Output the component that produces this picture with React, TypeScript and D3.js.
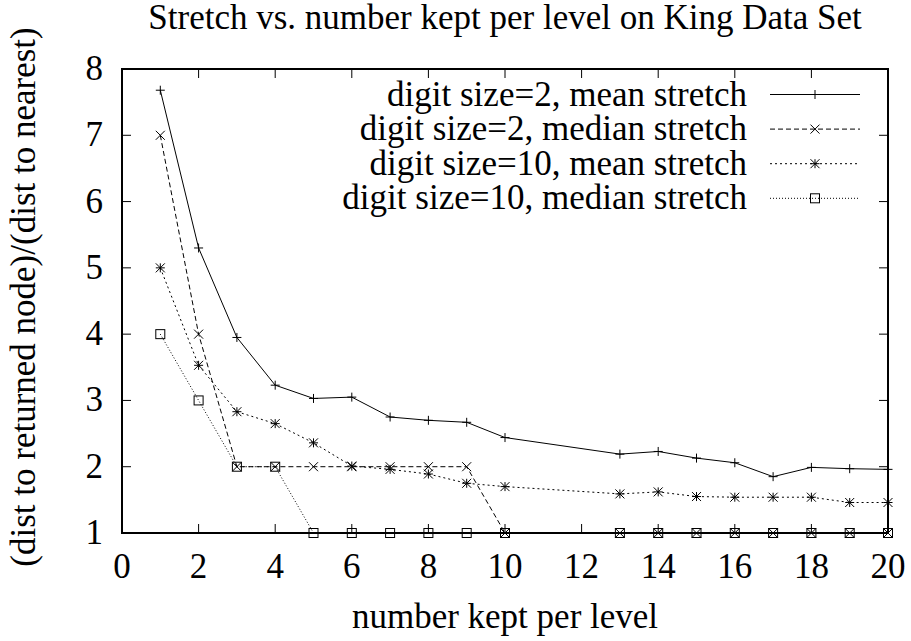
import React from 'react'
import * as d3 from 'd3'

const kept = [1, 2, 3, 4, 5, 6, 7, 8, 9, 10, 13, 14, 15, 16, 17, 18, 19, 20]
const meanD2 = [7.68, 5.3, 3.95, 3.23, 3.03, 3.05, 2.75, 2.7, 2.67, 2.44, 2.19, 2.23, 2.13, 2.06, 1.85, 1.99, 1.97, 1.96]
const medianD2 = [7, 4, 2, 2, 2, 2, 2, 2, 2, 1, 1, 1, 1, 1, 1, 1, 1, 1]
const meanD10 = [5, 3.53, 2.83, 2.65, 2.36, 2.01, 1.96, 1.89, 1.75, 1.7, 1.59, 1.62, 1.55, 1.54, 1.54, 1.54, 1.46, 1.46]
const medianD10 = [4, 3, 2, 2, 1, 1, 1, 1, 1, 1, 1, 1, 1, 1, 1, 1, 1, 1]

const seriesNames = [
  'digit size=2, mean stretch',
  'digit size=2, median stretch',
  'digit size=10, mean stretch',
  'digit size=10, median stretch',
]
const xTicks = [0, 2, 4, 6, 8, 10, 12, 14, 16, 18, 20]
const yTicks = [1, 2, 3, 4, 5, 6, 7, 8]

const W = 911
const H = 641
const font = 'Liberation Serif, Times New Roman, serif'
const fs = 35

function Marker({ kind, x, y }: { kind: number; x: number; y: number }) {
  const s = 4.5
  const st = { stroke: '#000', strokeWidth: 1, fill: 'none' }
  if (kind === 0) return <path d={`M${x - s},${y}H${x + s}M${x},${y - s}V${y + s}`} {...st} />
  if (kind === 1) return <path d={`M${x - s},${y - s}L${x + s},${y + s}M${x - s},${y + s}L${x + s},${y - s}`} {...st} />
  if (kind === 2)
    return (
      <path
        d={`M${x - s},${y}H${x + s}M${x},${y - s}V${y + s}M${x - s},${y - s}L${x + s},${y + s}M${x - s},${y + s}L${x + s},${y - s}`}
        {...st}
      />
    )
  return <rect x={x - s} y={y - s} width={2 * s} height={2 * s} {...st} />
}

export default function App() {
  const x = d3.scaleLinear().domain([0, 20]).range([122, 888])
  const y = d3.scaleLinear().domain([1, 8]).range([533, 69])
  const all = [meanD2, medianD2, meanD10, medianD10]
  const dashes = ['none', '5,3', '2,3', '1,2']
  const line = d3.line<[number, number]>().x(d => x(d[0])).y(d => y(d[1]))
  const tl = 9
  const txt = { fontFamily: font, fontSize: fs }

  return (
    <svg width={W} height={H} style={{ position: 'absolute', left: 0, top: 0, background: '#fff' }}>
      <rect width={W} height={H} fill="#fff" />
      <text x={505} y={29} textAnchor="middle" style={txt}>
        Stretch vs. number kept per level on King Data Set
      </text>

      {/* ticks on all four sides */}
      {xTicks.map(t => (
        <g key={'x' + t}>
          <line x1={x(t)} x2={x(t)} y1={y(1)} y2={y(1) - tl} stroke="#000" />
          <line x1={x(t)} x2={x(t)} y1={y(8)} y2={y(8) + tl} stroke="#000" />
          <text x={x(t)} y={578} textAnchor="middle" style={txt}>{t}</text>
        </g>
      ))}
      {yTicks.map(t => (
        <g key={'y' + t}>
          <line x1={x(0)} x2={x(0) + tl} y1={y(t)} y2={y(t)} stroke="#000" />
          <line x1={x(20)} x2={x(20) - tl} y1={y(t)} y2={y(t)} stroke="#000" />
          <text x={103} y={y(t) + 11} textAnchor="end" style={txt}>{t}</text>
        </g>
      ))}

      {all.map((vals, i) => (
        <g key={'s' + i}>
          <path
            d={line(kept.map((k, j) => [k, vals[j]] as [number, number])) || ''}
            fill="none"
            stroke="#000"
            strokeWidth={1}
            strokeDasharray={dashes[i]}
          />
          {kept.map((k, j) => (
            <Marker key={j} kind={i} x={x(k)} y={y(vals[j])} />
          ))}
        </g>
      ))}

      {seriesNames.map((n, i) => {
        const ly = 94.5 + i * 34.6
        return (
          <g key={'l' + i}>
            <text x={747} y={ly + 11} textAnchor="end" style={txt}>{n}</text>
            <line x1={770} x2={860} y1={ly} y2={ly} stroke="#000" strokeDasharray={dashes[i]} />
            <Marker kind={i} x={815} y={ly} />
          </g>
        )
      })}

      <rect x={x(0)} y={y(8)} width={x(20) - x(0)} height={y(1) - y(8)} fill="none" stroke="#000" strokeWidth={2} />

      <text x={505} y={628} textAnchor="middle" style={txt}>number kept per level</text>
      <text transform={`translate(35,297) rotate(-90)`} textAnchor="middle" style={txt}>
        (dist to returned node)/(dist to nearest)
      </text>
    </svg>
  )
}
